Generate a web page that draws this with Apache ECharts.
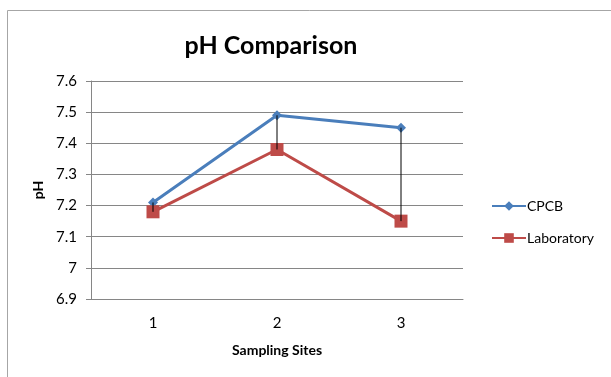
<!DOCTYPE html>
<html><head><meta charset="utf-8">
<script src="https://cdn.jsdelivr.net/npm/echarts@6/dist/echarts.min.js"></script>
<style>html,body{margin:0;padding:0;background:#fff}#c{width:611px;height:377px}</style>
</head><body><div id="c"></div>
<script>
const categories = ['1', '2', '3'];
const cpcb = [7.21, 7.49, 7.45];
const laboratory = [7.18, 7.38, 7.15];
const yTicks = ['6.9', '7', '7.1', '7.2', '7.3', '7.4', '7.5', '7.6'];

const chart = echarts.init(document.getElementById('c'));
const FONT = 'Lato';
chart.setOption({
  animation: false,
  backgroundColor: '#fff',
  textStyle: { fontFamily: FONT },
  graphic: [{
    type: 'rect', shape: { x: 7.5, y: 10.5, width: 640, height: 400 },
    style: { fill: 'none', stroke: '#a6a6a6', lineWidth: 1 }, silent: true
  }],
  title: {
    text: 'pH Comparison', left: 266, top: 28, textAlign: 'center',
    textStyle: { fontFamily: FONT, fontSize: 25, fontWeight: 'bold', color: '#000' }
  },
  legend: {
    orient: 'vertical', left: 486, top: 194, itemGap: 18,
    itemWidth: 34, itemHeight: 12,
    textStyle: { fontFamily: FONT, fontSize: 14, color: '#000', padding: [0, 0, 0, -4] },
    data: ['CPCB', 'Laboratory']
  },
  grid: { left: 91, right: 148, top: 81, bottom: 78 },
  xAxis: {
    type: 'category', data: categories, boundaryGap: true,
    name: 'Sampling Sites', nameLocation: 'middle', nameGap: 44,
    nameTextStyle: { fontFamily: FONT, fontSize: 14, fontWeight: 'bold', color: '#000' },
    axisLine: { lineStyle: { color: '#868686' } },
    axisTick: { show: false },
    axisLabel: { fontFamily: FONT, fontSize: 15, color: '#000', margin: 17 }
  },
  yAxis: {
    type: 'value', min: 6.9, max: 7.6, interval: 0.1,
    name: 'pH', nameLocation: 'middle', nameGap: 46, nameRotate: 90,
    nameTextStyle: { fontFamily: FONT, fontSize: 14, fontWeight: 'bold', color: '#000' },
    axisLine: { show: true, lineStyle: { color: '#868686' } },
    axisTick: { show: true, length: 5, lineStyle: { color: '#868686' } },
    splitLine: { lineStyle: { color: '#868686', width: 1 } },
    axisLabel: {
      fontFamily: FONT, fontSize: 15, color: '#000', margin: 14,
      formatter: v => yTicks[Math.round((v - 6.9) * 10)]
    }
  },
  series: [
    {
      name: 'CPCB', type: 'line', data: cpcb, z: 3,
      symbol: 'diamond', symbolSize: 10,
      lineStyle: { color: '#4a7ebb', width: 3 },
      itemStyle: { color: '#4a7ebb' }
    },
    {
      name: 'Laboratory', type: 'line', data: laboratory, z: 3,
      symbol: 'rect', symbolSize: 13,
      lineStyle: { color: '#be4b48', width: 3 },
      itemStyle: { color: '#be4b48' }
    },
    {
      name: 'hilo', type: 'custom', z: 4, silent: true,
      data: categories.map((c, i) => [i, cpcb[i], laboratory[i]]),
      renderItem: (params, api) => {
        const a = api.coord([api.value(0), api.value(1)]);
        const b = api.coord([api.value(0), api.value(2)]);
        return { type: 'line', shape: { x1: a[0], y1: a[1], x2: b[0], y2: b[1] },
          style: { stroke: '#000', lineWidth: 1 } };
      }
    }
  ]
});
</script></body></html>
